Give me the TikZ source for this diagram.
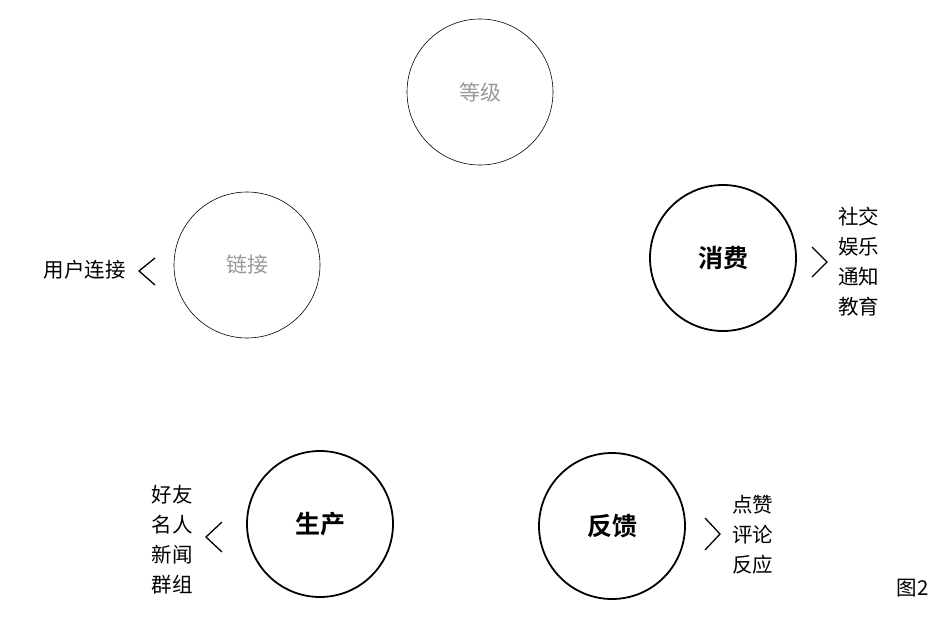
\documentclass[tikz,border=0pt]{standalone}
\usepackage{fontspec}
\setmainfont{Noto Sans CJK SC}[BoldFont={Noto Sans CJK SC Bold}]
\usepackage{tikz}

\begin{document}
\begin{tikzpicture}[x=1pt,y=-1pt,
    stage/.style={shape=circle,draw,minimum size=146pt,inner sep=0pt},
    faint/.style={stage,line width=0.6pt,text=black!40,font=\fontsize{21}{21}\selectfont},
    strong/.style={stage,line width=1.8pt,font=\bfseries\fontsize{25}{25}\selectfont},
    item/.style={inner sep=0pt,align=left,font=\fontsize{20.5}{30}\selectfont},
    chevron/.style={line width=1.3pt}]
  \useasboundingbox (0,0) rectangle (952,618);
  \node[faint] (grade) at (480,92) {等级};
  \node[faint] (link) at (247,265) {链接};
  \node[strong] (consume) at (723,258) {消费};
  \node[strong] (produce) at (320,524) {生产};
  \node[strong] (feedback) at (612,526) {反馈};
  \node[item,anchor=east] (users) at (126,270) {用户连接};
  \node[item,anchor=west] (uses) at (838,262) {社交\\娱乐\\通知\\教育};
  \node[item,anchor=east] (sources) at (193,540) {好友\\名人\\新闻\\群组};
  \node[item,anchor=west] (reacts) at (732,535) {点赞\\评论\\反应};
  \node[item,anchor=south east] (fig) at (929,597) {图2};
  % chevrons
  \draw[chevron] (155,258) -- (139,271) -- (155,285);
  \draw[chevron] (812,247) -- (827,262) -- (812,277);
  \draw[chevron] (222,522) -- (206,537) -- (222,552);
  \draw[chevron] (705,518) -- (720,534) -- (705,550);
\end{tikzpicture}
\end{document}
